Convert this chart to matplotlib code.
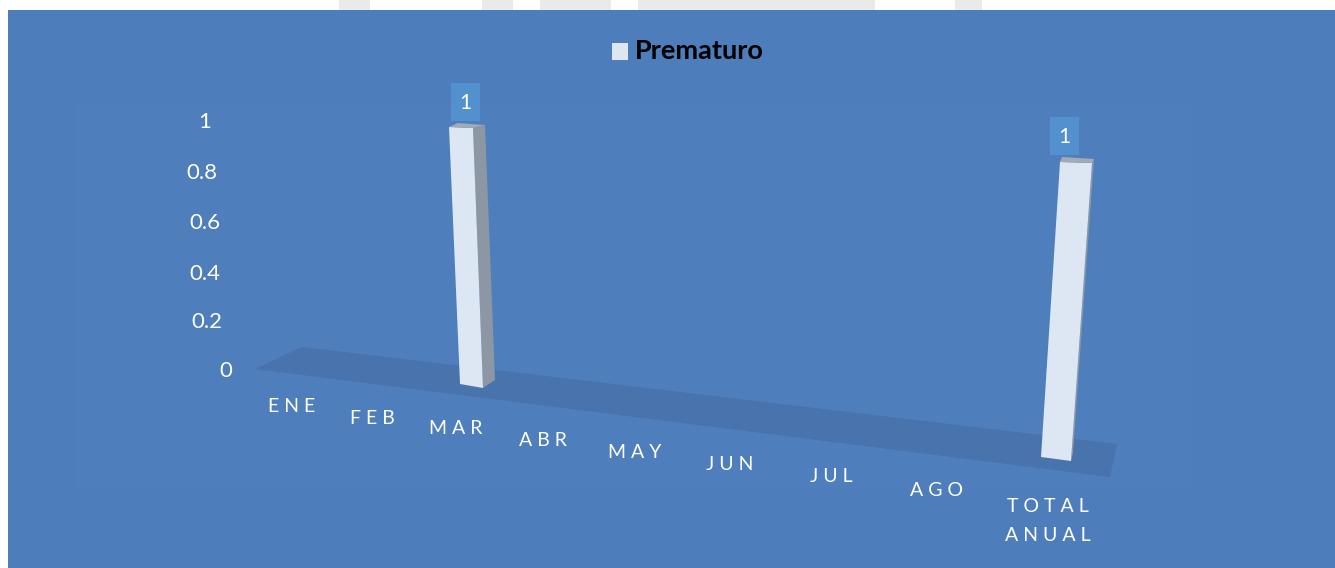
#!/usr/bin/env python3
import matplotlib.pyplot as plt
from matplotlib.patches import Polygon, Rectangle

plt.rcParams['font.family'] = ['Lato', 'DejaVu Sans']

categories = ["ENE", "FEB", "MAR", "ABR", "MAY", "JUN", "JUL", "AGO", "TOTAL\nANUAL"]
values = [0, 0, 1, 0, 0, 0, 0, 0, 1]
data_labels = ["", "", "1", "", "", "", "", "", "1"]
y_ticks = ["0", "0.2", "0.4", "0.6", "0.8", "1"]
series_name = "Prematuro"

# pixel layout of the fake 3D chart
W, H = 1335, 568
tick_pos = [(226, 371), (207, 322), (205, 274), (205, 223), (202, 173), (205, 122)]
cat_pos = [(292, 407), (372, 418), (456, 429), (543, 440), (635, 452),
           (730, 464), (831, 476), (937, 490), (1048, 521)]
floor = [(255, 369), (302, 347), (1117, 444), (1110, 477)]
smudges = [(339, 31), (482, 31), (540, 71), (638, 237), (955, 27)] # blurred watermark above the panel
# corners of a bar: front-left, front-right, back-right (base and top), for the MAR and TOTAL slots
base_a = [(460, 384), (483, 388), (495, 380)]
top_a = [(449, 127), (473, 128), (485, 125), (458, 123)]
base_b = [(1041, 457), (1071, 461), (1073, 453)]
top_b = [(1060, 162), (1092, 163), (1094, 159), (1062, 157)]
label_a, label_b = [(465, 123)], [(1064, 157)]
SLOT_A, SLOT_B = 2, 8

def slot(i, a, b):
    t = (i - SLOT_A) / (SLOT_B - SLOT_A)
    return [(p[0] + (q[0] - p[0]) * t, p[1] + (q[1] - p[1]) * t) for p, q in zip(a, b)]

def up(base, top, v):
    return (base[0] + (top[0] - base[0]) * v, base[1] + (top[1] - base[1]) * v)

fig = plt.figure(figsize=(W / 100, H / 100), dpi=100, facecolor='white')
ax = fig.add_axes([0, 0, 1, 1])
ax.set_xlim(0, W)
ax.set_ylim(H, 0)
ax.axis('off')

for x, w in smudges:
    ax.add_patch(Rectangle((x, 0), w, 10, fc='#EAEAEA', ec='none'))
ax.add_patch(Rectangle((8, 10), W - 8, H - 10, fc='#4E7DBB', ec='none'))
ax.add_patch(Rectangle((75, 103), 1115, 385, fc='#4E7EBC', ec='none'))
ax.add_patch(Polygon(floor, fc='#4873AC', ec='none'))

for i, v in enumerate(values):
    if v == 0:
        continue
    b = slot(i, base_a, base_b)
    t = slot(i, top_a, top_b)
    fl, fr, br = up(b[0], t[0], v), up(b[1], t[1], v), up(b[2], t[2], v)
    bl = (fl[0] + t[3][0] - t[0][0], fl[1] + t[3][1] - t[0][1])
    ax.add_patch(Polygon([b[1], b[2], br, fr], fc='#8D97A3', ec='none'))
    ax.add_patch(Polygon([b[0], b[1], fr, fl], fc='#DDE6F3', ec='none'))
    ax.add_patch(Polygon([fl, fr, br, bl], fc='#A3AAB3', ec='none'))
    cx, ly = slot(i, label_a, label_b)[0]
    ax.add_patch(Rectangle((cx - 14.5, ly - 40), 29, 38, fc='#5390CE', ec='none'))
    ax.text(cx, ly - 20, data_labels[i], color='white', fontsize=15, ha='center', va='center')

for s, (x, y) in zip(y_ticks, tick_pos):
    ax.text(x, y, s, color='white', fontsize=16, ha='center', va='center')

for c, (x, y) in zip(categories, cat_pos):
    lab = "\n".join(" ".join(part) for part in c.split("\n"))
    ax.text(x, y, lab, color='white', fontsize=14, ha='center', va='center', linespacing=1.8)

ax.add_patch(Rectangle((612, 43), 16, 17, fc='#DDE6F3', ec='none'))
ax.text(635, 51, series_name, color='black', fontsize=19.5, fontweight='bold', ha='left', va='center')

fig.savefig('out.png', dpi=100)
